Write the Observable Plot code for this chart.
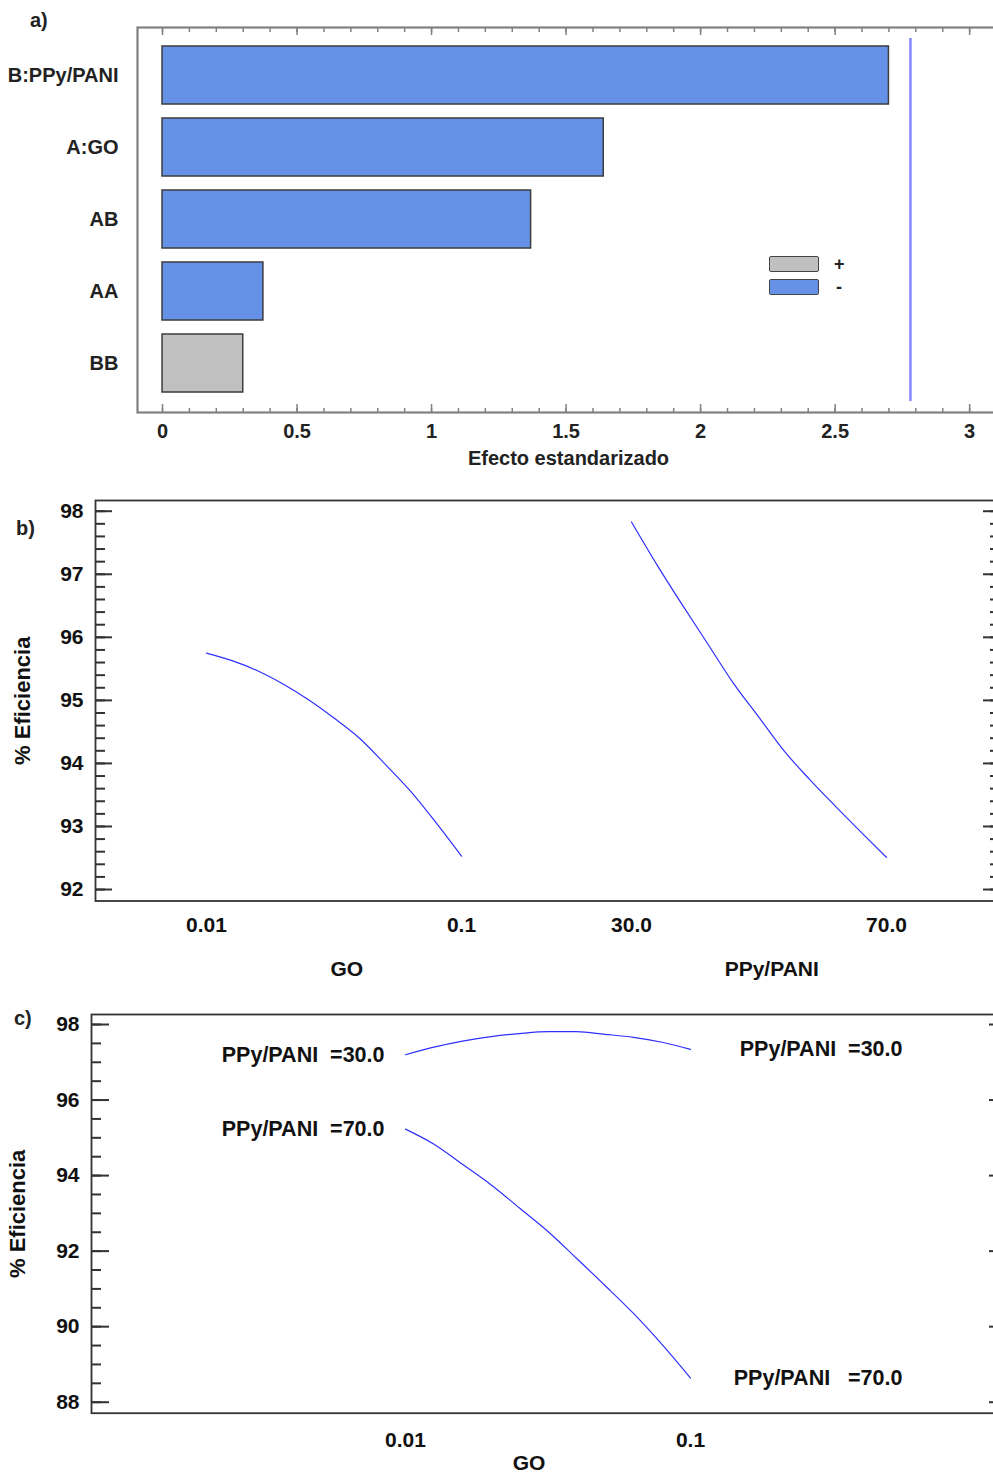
<!DOCTYPE html>
<html>
<head>
<meta charset="utf-8">
<script src="https://cdn.jsdelivr.net/npm/d3@7"></script>
<script src="https://cdn.jsdelivr.net/npm/@observablehq/plot@0.6"></script>
<style>
  html, body { margin: 0; padding: 0; background: #fff; overflow: hidden; }
  #page { position: relative; width: 993px; height: 1475px; overflow: hidden; background: #fff;
          font-family: "Liberation Sans", Arial, sans-serif; }
  .panel { position: absolute; left: 0; }
  .tag { position: absolute; font-weight: bold; font-size: 20px; color: #222; line-height: 1; }
  .lg-box { position: absolute; width: 48px; height: 14px; border: 1.5px solid #444; border-radius: 2px; }
  .lg-txt { position: absolute; font-weight: bold; font-size: 18px; color: #222; line-height: 1; }
</style>
</head>
<body>
<div id="page"></div>
<script>
// ---------- DATA ----------
// a) Pareto chart of standardized effects
const terms = ["B:PPy/PANI", "A:GO", "AB", "AA", "BB"];
const effects = [2.70, 1.64, 1.37, 0.375, 0.30];
const signs = ["-", "-", "-", "-", "+"];
const criticalValue = 2.78;
const paretoTicks = [0, 0.5, 1, 1.5, 2, 2.5, 3];

// b) Main effects
const goLevels = [0.01, 0.019, 0.028, 0.037, 0.046, 0.055, 0.064, 0.073, 0.082, 0.091, 0.1];
const goEffect = [95.75, 95.63, 95.47, 95.26, 95.01, 94.72, 94.40, 93.99, 93.56, 93.06, 92.53];
const ppyLevels = [30, 34, 38, 42, 46, 50, 54, 58, 62, 66, 70];
const ppyEffect = [97.83, 97.15, 96.51, 95.89, 95.27, 94.73, 94.19, 93.74, 93.32, 92.91, 92.51];
const mainTickLabels = ["0.01", "0.1", "30.0", "70.0"];
const factorNames = ["GO", "PPy/PANI"];
const mainYTicks = [92, 93, 94, 95, 96, 97, 98];

// c) Interaction
const interGO = [0.01, 0.019, 0.028, 0.037, 0.046, 0.055, 0.064, 0.073, 0.082, 0.091, 0.1];
const inter30 = [97.20, 97.40, 97.56, 97.68, 97.76, 97.81, 97.81, 97.74, 97.66, 97.53, 97.34];
const inter70 = [95.23, 94.83, 94.30, 93.76, 93.14, 92.52, 91.81, 91.09, 90.35, 89.53, 88.64];
const interLevels = ["30.0", "70.0"];
const interXTicks = [0.01, 0.1];
const interYTicks = [88, 90, 92, 94, 96, 98];

// ---------- LAYOUT ----------
const FONT = '"Liberation Sans", Arial, sans-serif';
const page = document.getElementById("page");
function place(el, top) { el.classList.add("panel"); el.style.top = top + "px"; page.appendChild(el); }
function tag(text, left, top) {
  const d = document.createElement("div"); d.className = "tag"; d.textContent = text;
  d.style.left = left + "px"; d.style.top = top + "px"; page.appendChild(d);
}

// ---------- a) Pareto ----------
const paretoData = terms.map((t, i) => ({term: t, effect: effects[i], sign: signs[i]}));
const paretoMinor = d3.range(0, 31).map(i => i / 10);
const gA = "#808080";
const plotA = Plot.plot({
  width: 1000, height: 477,
  marginLeft: 137, marginRight: 1, marginTop: 27, marginBottom: 65,
  style: {fontFamily: FONT, fontSize: "20px", fontWeight: "bold", color: "#222", background: "transparent", maxWidth: "none"},
  x: {domain: [-0.093, 3.111]},
  y: {domain: terms, insetTop: 10.7, insetBottom: 11.2, paddingInner: 0.2, paddingOuter: 0.1},
  color: {domain: ["+", "-"], range: ["#c0c0c0", "#6592e6"]},
  marks: [
    Plot.barX(paretoData, {x: "effect", y: "term", fill: "sign", stroke: "#3c3c3c", strokeWidth: 1.5}),
    Plot.ruleX([criticalValue], {stroke: "#8686ff", strokeWidth: 2.5, insetTop: 11, insetBottom: 11}),
    Plot.frame({stroke: gA, strokeWidth: 2.2}),
    Plot.axisX({anchor: "bottom", ticks: paretoTicks, tickSize: 8, dy: -8, fill: "none", stroke: gA, strokeWidth: 1.5, label: null}),
    Plot.axisX({anchor: "bottom", ticks: paretoMinor, tickSize: 4, dy: -4, fill: "none", stroke: gA, strokeWidth: 1.5, label: null}),
    Plot.axisX({anchor: "top", ticks: paretoTicks, tickSize: 7, dy: 7, fill: "none", stroke: gA, strokeWidth: 1.5, label: null}),
    Plot.axisX({anchor: "top", ticks: paretoMinor, tickSize: 4, dy: 4, fill: "none", stroke: gA, strokeWidth: 1.5, label: null}),
    Plot.axisX({anchor: "bottom", ticks: paretoTicks, tickSize: 0, tickPadding: 11, tickFormat: d => String(d),
      label: "Efecto estandarizado", labelAnchor: "center", labelArrow: "none", labelOffset: 52}),
    Plot.axisY({anchor: "left", tickSize: 0, tickPadding: 19, label: null})
  ]
});
place(plotA, 0);
tag("a)", 30, 10);

// legend (HTML)
function legendItem(color, sym, top, symLeft) {
  const b = document.createElement("div"); b.className = "lg-box";
  b.style.left = "769px"; b.style.top = top + "px"; b.style.background = color; page.appendChild(b);
  const t = document.createElement("div"); t.className = "lg-txt"; t.textContent = sym;
  t.style.left = symLeft + "px"; t.style.top = (top - 1) + "px"; page.appendChild(t);
}
legendItem("#c0c0c0", "+", 256, 834);
legendItem("#6592e6", "-", 279, 836);

// ---------- b) Main effects ----------
const slots = [0, 5 / 3];
const goRange = [goLevels[0], goLevels[goLevels.length - 1]];
const ppyRange = [ppyLevels[0], ppyLevels[ppyLevels.length - 1]];
const mainData = [
  ...goLevels.map((v, i) => ({factor: factorNames[0], pos: slots[0] + (v - goRange[0]) / (goRange[1] - goRange[0]), y: goEffect[i]})),
  ...ppyLevels.map((v, i) => ({factor: factorNames[1], pos: slots[1] + (v - ppyRange[0]) / (ppyRange[1] - ppyRange[0]), y: ppyEffect[i]}))
];
const mainTickPos = [slots[0], slots[0] + 1, slots[1], slots[1] + 1];
const mainTickMap = new Map(mainTickPos.map((p, i) => [p, mainTickLabels[i]]));
const factorPos = slots.map(s => s + 0.55);
const factorMap = new Map(factorPos.map((p, i) => [p, factorNames[i]]));
const mainMinor = d3.range(0, 31).map(i => 92 + i * 0.2);
const dk = "#333";
const plotB = Plot.plot({
  width: 1000, height: 490,
  marginLeft: 95, marginRight: 1, marginTop: 10, marginBottom: 79.5,
  style: {fontFamily: FONT, fontSize: "21px", fontWeight: "bold", color: "#111", background: "transparent", maxWidth: "none"},
  x: {domain: [-0.4353, 3.1098]},
  y: {domain: [91.818, 98.17]},
  marks: [
    Plot.frame({stroke: dk, strokeWidth: 1.8}),
    Plot.line(mainData, {x: "pos", y: "y", z: "factor", stroke: "#3030ff", strokeWidth: 1.2, curve: "monotone-x"}),
    Plot.axisY({anchor: "left", ticks: mainYTicks, tickSize: 17, dx: 17, fill: "none", stroke: dk, strokeWidth: 2, label: null}),
    Plot.axisY({anchor: "left", ticks: mainMinor, tickSize: 10, dx: 10, fill: "none", stroke: dk, strokeWidth: 2, label: null}),
    Plot.axisY({anchor: "right", ticks: mainYTicks, tickSize: 17, dx: -17, fill: "none", stroke: dk, strokeWidth: 2, label: null}),
    Plot.axisY({anchor: "right", ticks: mainMinor, tickSize: 10, dx: -10, fill: "none", stroke: dk, strokeWidth: 2, label: null}),
    Plot.axisY({anchor: "left", ticks: mainYTicks, tickFormat: d => String(d), tickSize: 0, tickPadding: 12, label: null}),
    Plot.axisX({anchor: "bottom", ticks: mainTickPos, tickFormat: d => mainTickMap.get(d), tickSize: 0, tickPadding: 16, label: null}),
    Plot.axisX({anchor: "bottom", ticks: factorPos, tickFormat: d => factorMap.get(d), tickSize: 0, tickPadding: 60, label: null}),
    Plot.text(["% Eficiencia"], {frameAnchor: "left", rotate: -90, dx: -73, text: d => d, textAnchor: "middle", lineAnchor: "middle", fontSize: 22})
  ]
});
place(plotB, 490);
tag("b)", 16, 518);

// ---------- c) Interaction ----------
const interData = [
  ...interGO.map((g, i) => ({level: interLevels[0], go: g, y: inter30[i]})),
  ...interGO.map((g, i) => ({level: interLevels[1], go: g, y: inter70[i]}))
];
const interMinor = d3.range(0, 21).map(i => 88 + i * 0.5);
const plotC = Plot.plot({
  width: 1007, height: 475,
  marginLeft: 91, marginRight: 1, marginTop: 14, marginBottom: 62.3,
  style: {fontFamily: FONT, fontSize: "21px", fontWeight: "bold", color: "#111", background: "transparent", maxWidth: "none"},
  x: {domain: [-0.08916, 0.1998]},
  y: {domain: [87.709, 98.265]},
  marks: [
    Plot.frame({stroke: dk, strokeWidth: 1.8}),
    Plot.line(interData, {x: "go", y: "y", z: "level", stroke: "#3030ff", strokeWidth: 1.2, curve: "monotone-x"}),
    Plot.text(interData, Plot.selectFirst({x: "go", y: "y", z: "level", text: d => `PPy/PANI  =${d.level}`,
      textAnchor: "end", dx: -21, fontSize: 21.5})),
    Plot.text(interData, Plot.selectLast({x: "go", y: "y", z: "level",
      text: d => `PPy/PANI${d.level === interLevels[1] ? "   " : "  "}=${d.level}`,
      textAnchor: "end", dx: 212, fontSize: 21.5})),
    Plot.axisY({anchor: "left", ticks: interYTicks, tickSize: 18, dx: 18, fill: "none", stroke: dk, strokeWidth: 2, label: null}),
    Plot.axisY({anchor: "left", ticks: interMinor, tickSize: 10, dx: 10, fill: "none", stroke: dk, strokeWidth: 2, label: null}),
    Plot.axisY({anchor: "right", ticks: interYTicks, tickSize: 18, dx: -18, fill: "none", stroke: dk, strokeWidth: 2, label: null}),
    Plot.axisY({anchor: "right", ticks: interMinor, tickSize: 10, dx: -10, fill: "none", stroke: dk, strokeWidth: 2, label: null}),
    Plot.axisY({anchor: "left", ticks: interYTicks, tickFormat: d => String(d), tickSize: 0, tickPadding: 12, label: null}),
    Plot.axisX({anchor: "bottom", ticks: interXTicks, tickFormat: d => String(d), tickSize: 0, tickPadding: 19, label: null}),
    Plot.text(["GO"], {frameAnchor: "bottom", text: d => d, dx: -20, dy: 50, textAnchor: "middle", lineAnchor: "middle"}),
    Plot.text(["% Eficiencia"], {frameAnchor: "left", rotate: -90, dx: -74, text: d => d, textAnchor: "middle", lineAnchor: "middle", fontSize: 22})
  ]
});
place(plotC, 1000);
tag("c)", 14, 1008);
</script>
</body>
</html>
